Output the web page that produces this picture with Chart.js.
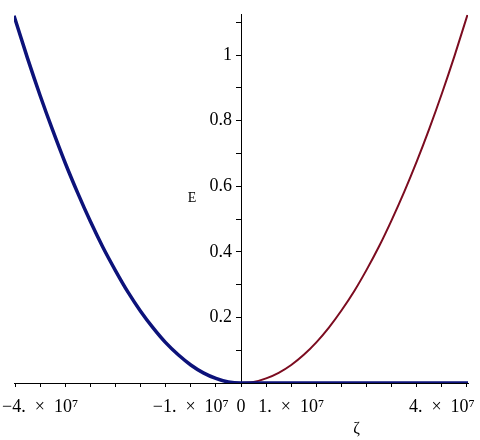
<!DOCTYPE html>
<html>
<head>
<meta charset="utf-8">
<script src="https://cdn.jsdelivr.net/npm/chart.js@4/dist/chart.umd.min.js"></script>
<style>
  html, body { margin: 0; padding: 0; background: #fff; }
  #wrap { width: 480px; height: 440px; }
</style>
</head>
<body>
<div id="wrap"><canvas id="canvas"></canvas></div>
<script>
// zeta values (units of 1e7) and E
var zetaLeft  = [-4.52, -4.25, -4, -3.75, -3.5, -3.25, -3, -2.75, -2.5, -2.25, -2, -1.75, -1.5, -1.25, -1, -0.75, -0.5, -0.25, 0];
var eLeft     = [1.12, 0.99, 0.877, 0.771, 0.671, 0.579, 0.493, 0.414, 0.343, 0.277, 0.219, 0.168, 0.123, 0.086, 0.055, 0.031, 0.014, 0.003, 0];
var zetaFlat  = [1, 2, 3, 4, 4.52];
var eFlat     = [0, 0, 0, 0, 0];
var zetaRight = [0, 0.25, 0.5, 0.75, 1, 1.25, 1.5, 1.75, 2, 2.25, 2.5, 2.75, 3, 3.25, 3.5, 3.75, 4, 4.25, 4.51];
var eRight    = [0, 0.003, 0.014, 0.031, 0.055, 0.086, 0.124, 0.169, 0.221, 0.279, 0.345, 0.417, 0.497, 0.583, 0.676, 0.776, 0.883, 0.997, 1.123];

var xTicks = [-4.5, -4, -3.5, -3, -2.5, -2, -1.5, -1, -0.5, 0, 0.5, 1, 1.5, 2, 2.5, 3, 3.5, 4, 4.5];
var xLabels = { "-4": "\u22124.\u2002\u00d7\u200210\u2077", "-1": "\u22121.\u2002\u00d7\u200210\u2077", "0": "0", "1": "1.\u2002\u00d7\u200210\u2077", "4": "4.\u2002\u00d7\u200210\u2077" };
var yTicks = [0, 0.1, 0.2, 0.3, 0.4, 0.5, 0.6, 0.7, 0.8, 0.9, 1, 1.1];
var yLabels = { "0.2": "0.2", "0.4": "0.4", "0.6": "0.6", "0.8": "0.8", "1": "1" };

function pts(xs, ys) {
    var out = [];
    for (let i = 0; i < xs.length; i++) {
        out.push({ x: xs[i] * 1e7, y: ys[i] });
    }
    return out;
}

var serif = "'Liberation Serif', 'DejaVu Serif', serif";

var axisNames = {
    id: 'axisNames',
    afterDraw: function (chart) {
        var ctx = chart.ctx;
        var xs = chart.scales.x, ys = chart.scales.y;
        ctx.save();
        ctx.fillStyle = '#000';
        ctx.font = '14px ' + serif;
        ctx.textAlign = 'center';
        ctx.textBaseline = 'middle';
        ctx.fillText('E', xs.getPixelForValue(0) - 49, ys.getPixelForValue(0.563));
        ctx.font = '16px ' + serif;
        ctx.fillText('\u03b6', xs.getPixelForValue(2.3e7), 429);
        ctx.restore();
    }
};

var ctx = document.getElementById('canvas');
var myChart = new Chart(ctx, {
    type: 'line',
    data: {
        datasets: [
            {
                label: 'E left',
                data: pts(zetaLeft, eLeft).concat(pts(zetaFlat, eFlat)),
                borderColor: '#0c127a',
                borderWidth: 3.5,
                pointRadius: 0,
                cubicInterpolationMode: 'monotone'
            },
            {
                label: 'E right',
                data: pts(zetaRight, eRight),
                borderColor: '#7c0c20',
                borderWidth: 2,
                pointRadius: 0,
                cubicInterpolationMode: 'monotone'
            }
        ]
    },
    plugins: [axisNames],
    options: {
        responsive: true,
        maintainAspectRatio: false,
        animation: false,
        layout: { padding: { left: 14, right: 12, top: 8, bottom: 0 } },
        plugins: {
            legend: { display: false },
            tooltip: { enabled: false }
        },
        scales: {
            x: {
                type: 'linear',
                min: -4.52e7,
                max: 4.52e7,
                afterBuildTicks: function (scale) {
                    scale.ticks = xTicks.map(function (v) { return { value: v * 1e7 }; });
                },
                afterFit: function (scale) { scale.height = 57; },
                grid: { drawOnChartArea: false, drawTicks: true, tickLength: 4, color: '#000' },
                border: { display: true, color: '#000', width: 1 },
                ticks: {
                    autoSkip: false,
                    maxRotation: 0,
                    padding: 9,
                    color: '#000',
                    font: { family: serif, size: 18 },
                    callback: function (v) {
                        var k = String(Math.round(v / 1e6) / 10);
                        return xLabels[k] || '';
                    }
                }
            },
            y: {
                type: 'linear',
                position: { x: 0 },
                min: 0,
                max: 1.123,
                afterBuildTicks: function (scale) {
                    scale.ticks = yTicks.map(function (v) { return { value: v }; });
                },
                grid: { drawOnChartArea: false, drawTicks: true, tickLength: 5, color: '#000' },
                border: { display: true, color: '#000', width: 1 },
                ticks: {
                    autoSkip: false,
                    padding: 4,
                    color: '#000',
                    font: { family: serif, size: 18 },
                    callback: function (v) {
                        // label sits right-aligned on the axis, so pad it with an en space
                        var k = String(Math.round(v * 10) / 10);
                        return yLabels[k] ? yLabels[k] + '\u2002' : '';
                    }
                }
            }
        }
    }
});
</script>
</body>
</html>
